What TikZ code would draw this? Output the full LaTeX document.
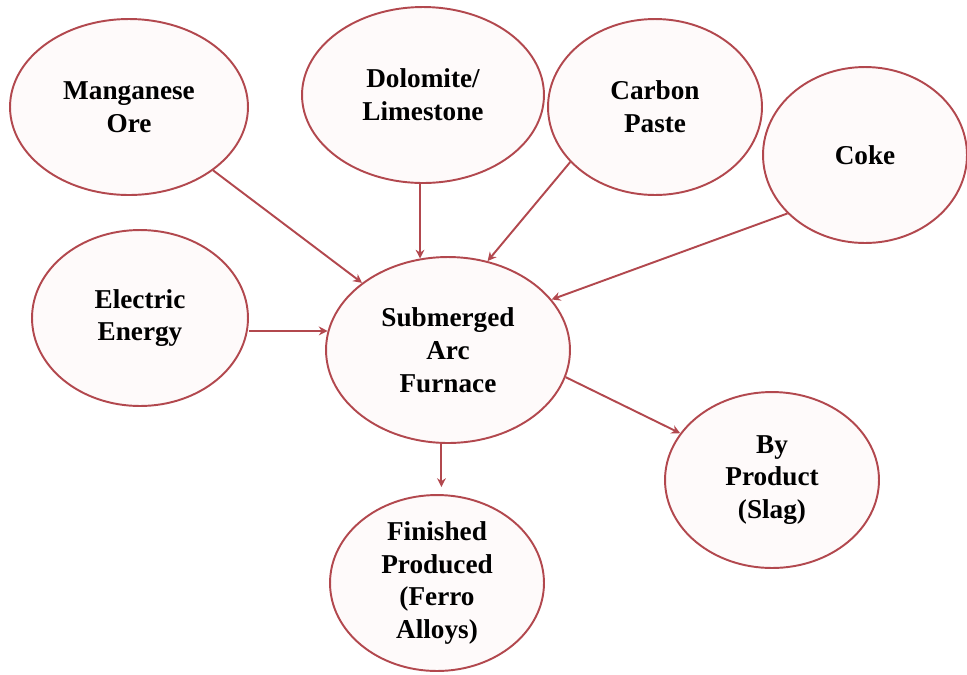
\documentclass[tikz,border=0pt]{standalone}
\usepackage{fontspec}
\setmainfont{Liberation Serif}
\usetikzlibrary{arrows.meta,shapes.geometric}
\definecolor{rim}{RGB}{178,72,78}
\definecolor{blush}{RGB}{254,250,250}
\begin{document}
\begin{tikzpicture}[x=0.02cm,y=-0.02cm,
    blob/.style={ellipse,draw=rim,line width=1.1pt,fill=blush,inner sep=0pt,
      align=center,font=\bfseries\fontsize{15.5}{18.7}\selectfont},
    arr/.style={draw=rim,line width=1.1pt,-{Stealth[length=5pt,width=5pt]}}]
  \clip (0,0) rectangle (967,674);
  % inputs
  \node[blob,minimum width=4.76cm,minimum height=3.52cm] (mn_ore) at (129,107) {Manganese\\Ore};
  \node[blob,minimum width=4.84cm,minimum height=3.52cm] (dol_lime) at (423,95) {Dolomite/\\Limestone};
  \node[blob,minimum width=4.28cm,minimum height=3.52cm] (c_paste) at (655,107) {Carbon\\Paste};
  \node[blob,minimum width=4.08cm,minimum height=3.52cm] (coke) at (865,155) {Coke};
  \node[blob,minimum width=4.32cm,minimum height=3.52cm] (e_energy) at (140,318) {Electric\\Energy};
  % furnace
  \node[blob,minimum width=4.88cm,minimum height=3.72cm] (saf) at (448,350) {Submerged\\Arc\\Furnace};
  % outputs
  \node[blob,minimum width=4.28cm,minimum height=3.52cm] (ferro) at (437,583) {Finished\\Produced\\(Ferro\\Alloys)};
  \node[blob,minimum width=4.28cm,minimum height=3.52cm] (slag) at (772,480) {By\\Product\\(Slag)};
  % arrows in
  \draw[arr] (mn_ore.-37) -- (saf.142.6);
  \draw[arr] (saf.107 |- dol_lime.south) -- (saf.107);
  \draw[arr] (c_paste.213.4) -- (saf.66);
  \draw[arr] (coke.217.6) -- (saf.26.3);
  \draw[arr] (saf.171 -| e_energy.east) -- (saf.171);
  % arrows out
  \draw[arr,shorten >=4pt] (saf.-94) -- (saf.-94 |- ferro.north);
  \draw[arr] (saf.-13.2) -- (slag.153.9);
\end{tikzpicture}
\end{document}
